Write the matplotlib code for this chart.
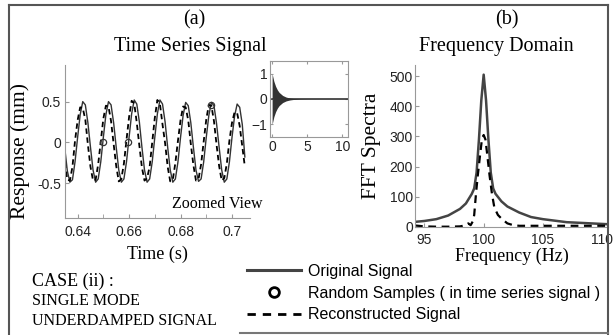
import numpy as np
import matplotlib.pyplot as plt
from matplotlib.lines import Line2D

plt.rcParams['font.family'] = 'Liberation Sans'
SERIF = 'Liberation Serif'

# zoomed time window, one value per ms starting at t0
t0 = 0.635
dt = 0.001
original = [
    -0.07, -0.35, -0.49, -0.46, -0.24, 0.06, 0.34, 0.50, 0.46, 0.24,
    -0.06, -0.34, -0.49, -0.45, -0.24, 0.06, 0.34, 0.50, 0.46, 0.24,
    -0.06, -0.34, -0.49, -0.45, -0.24, 0.06, 0.35, 0.52, 0.47, 0.25,
    -0.06, -0.34, -0.49, -0.45, -0.24, 0.06, 0.35, 0.52, 0.47, 0.25,
    -0.06, -0.34, -0.49, -0.45, -0.24, 0.06, 0.33, 0.49, 0.45, 0.24,
    -0.06, -0.34, -0.48, -0.45, -0.24, 0.06, 0.33, 0.49, 0.45, 0.23,
    -0.06, -0.34, -0.49, -0.45, -0.24, 0.06, 0.32, 0.47, 0.43, 0.22,
    -0.18,
]
reconstructed = [
    -0.25, -0.46, -0.47, -0.30, 0.02, 0.27, 0.43, 0.42, 0.28, -0.03,
    -0.30, -0.47, -0.46, -0.27, 0.01, 0.29, 0.45, 0.44, 0.26, -0.02,
    -0.29, -0.48, -0.45, -0.26, 0.03, 0.31, 0.51, 0.48, 0.24, -0.04,
    -0.31, -0.47, -0.44, -0.30, 0.00, 0.30, 0.52, 0.47, 0.22, -0.01,
    -0.30, -0.48, -0.46, -0.25, 0.02, 0.27, 0.44, 0.43, 0.27, -0.02,
    -0.28, -0.47, -0.45, -0.27, 0.01, 0.28, 0.46, 0.45, 0.26, -0.03,
    -0.29, -0.47, -0.44, -0.26, 0.02, 0.24, 0.37, 0.36, 0.20, -0.05,
    -0.30,
]
sample_t = [0.6499, 0.6596, 0.6918]
sample_v = [0.0, 0.0, 0.46]

# envelope of the full record (inset)
env_t = [0, 0.25, 0.5, 0.75, 1.0, 1.5, 2.0, 2.5, 3.0, 4.0, 5.0, 7.0, 10.8]
env_v = [1.0, 0.7, 0.5, 0.36, 0.26, 0.14, 0.075, 0.04, 0.02, 0.008, 0.004, 0.002, 0.001]

# FFT spectra
freq_orig = [94.2, 95, 96, 97, 98, 98.5, 99, 99.2, 99.4, 99.6, 99.8, 100,
             100.2, 100.4, 100.6, 100.8, 101, 101.5, 102, 102.5, 103, 104,
             105, 107, 110.6]
fft_orig = [17, 20, 26, 38, 60, 78, 110, 128, 180, 290, 420, 505,
            420, 290, 180, 128, 110, 85, 68, 58, 48, 33,
            26, 16, 9]
freq_rec = [94.2, 95, 96, 97, 98, 98.5, 98.7, 98.9, 99.1, 99.2, 99.35, 99.5,
            99.7, 99.85, 100, 100.15, 100.3, 100.5, 100.7, 100.9, 101.2,
            101.5, 102, 102.5, 103, 105, 107, 110.6]
fft_rec = [5, 2, 1, 1, 2, 6, 12, 6, 20, 40, 110, 170,
           240, 290, 305, 290, 240, 170, 110, 65, 40,
           28, 12, 6, 4, 4, 4, 4]

W, H = 613, 335
fig = plt.figure(figsize=(W / 100, H / 100), dpi=100)


def box(x0, y0, x1, y1):
    return [x0 / W, 1 - y1 / H, (x1 - x0) / W, (y1 - y0) / H]


def style(a, spines=('left', 'bottom')):
    for s in a.spines:
        a.spines[s].set_visible(s in spines)
        a.spines[s].set_color('#999999')
        a.spines[s].set_linewidth(0.8)
    a.tick_params(which='both', direction='in', length=3, color='#999999',
                  labelsize=10, labelcolor='#222222')


# ---- time series
t = t0 + dt * np.arange(len(original))
ax = fig.add_axes(box(65, 65, 250, 218))
ax.plot(t, original, color='#333333', lw=1.0)
ax.plot(t, reconstructed, color='black', lw=1.3, ls=(0, (3, 2)))
ax.plot(sample_t, sample_v, 'o', mfc='none', mec='#333333', ms=4.5, mew=0.9)
ax.set_xlim(0.6351, 0.707)
ax.set_ylim(-0.93, 0.95)
ax.set_xticks([0.64, 0.66, 0.68, 0.70], ['0.64', '0.66', '0.68', '0.7'])
ax.set_xticks([0.65, 0.67, 0.69], minor=True)
ax.set_yticks([-0.5, 0, 0.5], ['-0.5', '0', '0.5'])
style(ax)
ax.tick_params(axis='x', pad=5)
ax.tick_params(axis='y', pad=3)
ax.set_xlabel('Time (s)', family=SERIF, fontsize=13, labelpad=5)
ax.set_ylabel('Response (mm)', family=SERIF, fontsize=15.5, va='center')
ax.yaxis.set_label_coords(-0.243, 0.44)

# ---- inset with full record
ax_in = fig.add_axes(box(270, 61, 348, 137))
env = np.array(env_v)
ax_in.fill_between(env_t, -env, env, color='#333333', lw=0)
ax_in.plot(env_t, 0 * env, color='#333333', lw=1.2)
ax_in.set_xlim(-0.3, 10.8)
ax_in.set_ylim(-1.5, 1.5)
ax_in.set_xticks([0, 5, 10])
ax_in.set_yticks([-1, 0, 1])
style(ax_in, spines=('left', 'bottom', 'right', 'top'))
ax_in.tick_params(top=True, right=True, length=2, pad=2)

# ---- spectra
ax2 = fig.add_axes(box(415, 65, 608, 227))
ax2.plot(freq_orig, fft_orig, color='#444444', lw=1.8)
ax2.plot(freq_rec, fft_rec, color='black', lw=1.6, ls=(0, (3.5, 2.5)))
ax2.set_xlim(94.2, 110.5)
ax2.set_ylim(0, 537)
ax2.set_xticks([95, 100, 105, 110])
ax2.set_yticks([0, 100, 200, 300, 400, 500])
style(ax2)
ax2.tick_params(axis='x', pad=4)
ax2.tick_params(axis='y', pad=1.5)
ax2.set_xlabel('Frequency (Hz)', family=SERIF, fontsize=13, labelpad=1)
ax2.set_ylabel('FFT Spectra', family=SERIF, fontsize=15.5, va='center')
ax2.yaxis.set_label_coords(-0.223, 0.5)

# ---- titles and notes
fig.text(194 / W, 1 - 20 / H, '(a)', family=SERIF, fontsize=14.5, ha='center', va='center')
fig.text(507 / W, 1 - 20 / H, '(b)', family=SERIF, fontsize=14.5, ha='center', va='center')
fig.text(190 / W, 1 - 47 / H, 'Time Series Signal', family=SERIF, fontsize=14.5,
         ha='center', va='center')
fig.text(496 / W, 1 - 47 / H, 'Frequency Domain', family=SERIF, fontsize=14.5,
         ha='center', va='center')
fig.text(217 / W, 1 - 204 / H, 'Zoomed View', family=SERIF, fontsize=11.5,
         ha='center', va='center')
fig.text(32 / W, 1 - 281 / H, 'CASE (ii) :', family=SERIF, fontsize=13, va='center')
fig.text(32 / W, 1 - 301 / H, 'SINGLE MODE', family=SERIF, fontsize=11.5, va='center')
fig.text(32 / W, 1 - 321 / H, 'UNDERDAMPED SIGNAL', family=SERIF, fontsize=11.5,
         va='center')

# ---- legend
handles = [
    Line2D([], [], color='#444444', lw=2.2),
    Line2D([], [], ls='none', marker='o', mfc='none', mec='black', ms=7, mew=2),
    Line2D([], [], color='black', lw=2, ls=(0, (3, 2.5))),
]
labels = ['Original Signal', 'Random Samples ( in time series signal )',
          'Reconstructed Signal']
fig.legend(handles, labels, loc='upper left', bbox_to_anchor=(247 / W, 1 - 264 / H),
           frameon=False, borderpad=0, borderaxespad=0, handlelength=3.4,
           handletextpad=0.45, labelspacing=0.42, fontsize=11.5)

# ---- frame lines
frame = dict(color='#555555', lw=1.5)
fig.add_artist(Line2D([9 / W, 9 / W], [0, 1 - 5 / H], **frame))
fig.add_artist(Line2D([9 / W, 608 / W], [1 - 5 / H, 1 - 5 / H], **frame))
fig.add_artist(Line2D([608 / W, 608 / W], [1 - 5 / H, 0], **frame))
fig.add_artist(Line2D([240 / W, 608 / W], [1 - 333 / H, 1 - 333 / H], color='#777777', lw=1.5))

fig.savefig('out.png', dpi=100)
